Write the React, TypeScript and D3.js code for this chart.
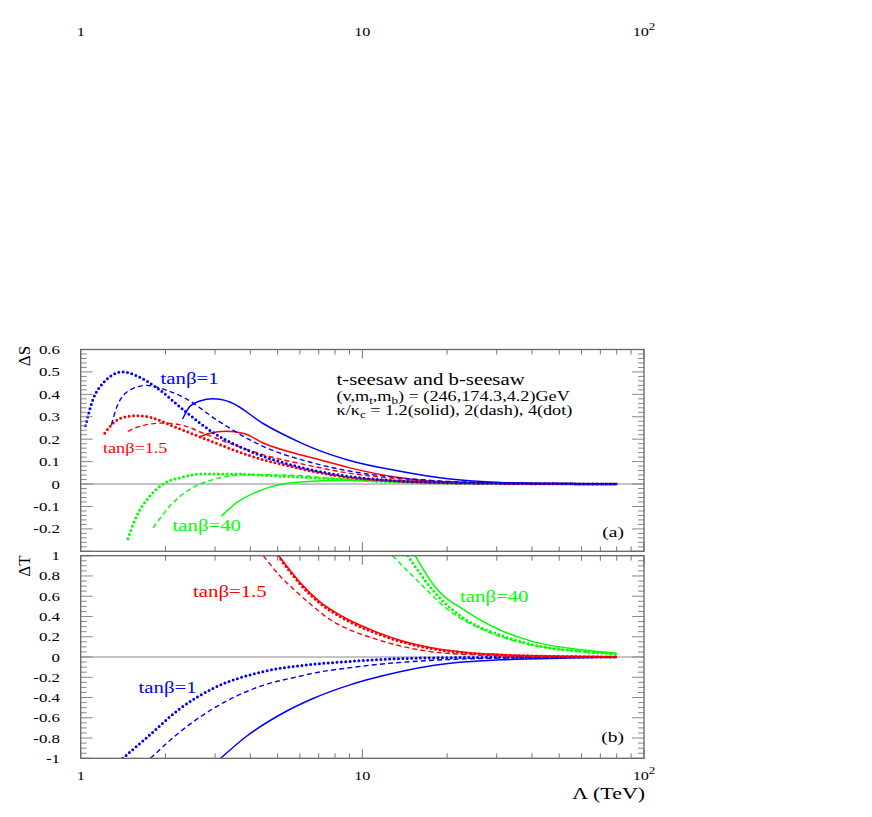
import React from "react";
import * as d3 from "d3";

const W = 872;
const H = 817;
const serif = "'Liberation Serif', 'Times New Roman', Times, 'DejaVu Serif', serif";
const BLUE = "#0000ff";
const RED = "#ff0000";
const GREEN = "#00ff00";

// x axis (Lambda, TeV)
const xTickLabels = ["1", "10", "10"];

// panel (a): Delta S
const sTicks = [-0.2, -0.1, 0, 0.1, 0.2, 0.3, 0.4, 0.5, 0.6];
const lamS_b_dot = [1.04, 1.1, 1.2, 1.41, 1.6, 1.86, 2.37, 2.95, 3.88, 5.84, 8.79, 13, 20, 30, 50, 80];
const dS_b_dot = [0.26, 0.37, 0.45, 0.5, 0.48, 0.43, 0.32, 0.23, 0.153, 0.079, 0.035, 0.015, 0.006, 0.003, 0.001, 0];
const lamS_b_dash = [1.285, 1.35, 1.5, 1.71, 2.0, 2.37, 3.03, 4.44, 6.69, 8.79, 13, 20, 30, 50, 80];
const dS_b_dash = [0.264, 0.35, 0.42, 0.44, 0.42, 0.38, 0.287, 0.168, 0.094, 0.06, 0.03, 0.012, 0.005, 0.002, 0];
const lamS_b_solid = [2.3, 2.44, 2.65, 2.95, 3.4, 4.44, 6.0, 6.69, 9.0, 13.6, 20.5, 30.8, 50, 80];
const dS_b_solid = [0.29, 0.346, 0.37, 0.38, 0.365, 0.27, 0.186, 0.16, 0.105, 0.057, 0.022, 0.007, 0.002, 0];
const lamS_r_dot = [1.217, 1.3, 1.4, 1.58, 1.8, 2.07, 2.72, 3.88, 5.84, 8.79, 13, 20, 30, 50, 80];
const dS_r_dot = [0.227, 0.27, 0.295, 0.305, 0.295, 0.264, 0.205, 0.131, 0.072, 0.03, 0.014, 0.006, 0.003, 0.001, 0];
const lamS_r_dash = [1.47, 1.6, 1.96, 2.3, 2.72, 3.4, 4.44, 6.69, 8.79, 13, 20, 30, 50, 80];
const dS_r_dash = [0.235, 0.255, 0.272, 0.262, 0.227, 0.18, 0.131, 0.079, 0.05, 0.025, 0.01, 0.004, 0.001, 0];
const lamS_r_solid = [2.65, 2.85, 3.29, 3.8, 4.44, 6.0, 6.69, 9.03, 13.6, 20.5, 30.8, 50, 80];
const dS_r_solid = [0.21, 0.225, 0.235, 0.225, 0.183, 0.131, 0.116, 0.072, 0.028, 0.008, 0.003, 0.001, 0];
const lamS_g_dot = [1.47, 1.58, 1.76, 1.96, 2.25, 2.72, 3.38, 5.09, 8.79, 13, 20, 30, 50, 80];
const dS_g_dot = [-0.244, -0.143, -0.054, 0, 0.028, 0.045, 0.045, 0.035, 0.02, 0.008, 0.004, 0.002, 0.001, 0];
const lamS_g_dash = [1.81, 2.07, 2.44, 2.95, 3.88, 5.84, 8.79, 13, 20, 30, 50, 80];
const dS_g_dash = [-0.195, -0.099, -0.024, 0.02, 0.042, 0.038, 0.02, 0.01, 0.004, 0.002, 0.001, 0];
const lamS_g_solid = [3.16, 3.57, 4.44, 5.84, 8.79, 13, 20, 30, 50, 80];
const dS_g_solid = [-0.143, -0.084, -0.024, 0.008, 0.017, 0.015, 0.008, 0.004, 0.001, 0];

// panel (b): Delta T
const tTicks = [-1, -0.8, -0.6, -0.4, -0.2, 0, 0.2, 0.4, 0.6, 0.8, 1];
const lamT_b_dot = [1.41, 1.71, 2.25, 2.95, 4.44, 6.69, 8.79, 13.6, 20, 30, 50, 80];
const dT_b_dot = [-1, -0.8, -0.51, -0.31, -0.145, -0.072, -0.046, -0.016, -0.007, -0.003, -0.001, 0];
const lamT_b_dash = [1.77, 2.25, 2.95, 4.44, 6.0, 6.69, 8.79, 10.35, 17.9, 30.8, 50, 80];
const dT_b_dash = [-1, -0.74, -0.51, -0.28, -0.19, -0.16, -0.11, -0.085, -0.032, -0.011, -0.003, 0];
const lamT_b_solid = [3.14, 3.89, 5.1, 6.68, 9.04, 10.39, 13.6, 17.8, 23.4, 30.8, 53.3, 80];
const dT_b_solid = [-1, -0.78, -0.57, -0.41, -0.275, -0.225, -0.145, -0.085, -0.048, -0.028, -0.01, 0];
const lamT_r = [5.02, 5.54, 6.01, 7.07, 7.87, 9.04, 10.39, 13.6, 17.8, 23.4, 30.8, 50.4, 80];
const dT_r_dot = [1, 0.84, 0.72, 0.53, 0.44, 0.345, 0.27, 0.155, 0.08, 0.04, 0.02, 0.006, 0];
const dT_r_solid = [1.01, 0.855, 0.735, 0.545, 0.455, 0.36, 0.285, 0.165, 0.088, 0.045, 0.024, 0.008, 0];
const lamT_r_dash = [4.45, 5.1, 5.86, 6.68, 7.68, 8.83, 10.39, 13.6, 17.8, 23.4, 30.8, 50.4, 80];
const dT_r_dash = [1, 0.8, 0.64, 0.5, 0.37, 0.28, 0.205, 0.11, 0.05, 0.025, 0.012, 0.004, 0];
const lamT_g_dot = [14.5, 17.9, 23.4, 30.8, 40.4, 60.9, 80];
const dT_g_dot = [1, 0.65, 0.366, 0.218, 0.119, 0.053, 0.03];
const lamT_g_dash = [12.8, 15.6, 20.5, 26.9, 35.3, 53, 80];
const dT_g_dash = [1, 0.76, 0.45, 0.267, 0.152, 0.069, 0.03];
const lamT_g_solid = [15.4, 17.9, 23.4, 30.8, 40.4, 60.9, 80];
const dT_g_solid = [1, 0.71, 0.45, 0.267, 0.152, 0.069, 0.037];

const X0 = 80.7;
const X1 = 644;
const x = d3.scaleLog().domain([1, 100]).range([X0, X1]);
const yA = d3.scaleLinear().domain([-0.3, 0.6]).range([551.3, 349.5]);
const yB = d3.scaleLinear().domain([-1, 1]).range([758.3, 555.7]);

const styles: Record<string, { w: number; dash?: string; cap: string }> = {
  solid: { w: 1.5, cap: "butt" },
  dash: { w: 1.4, dash: "5 3.2", cap: "butt" },
  dot: { w: 3, dash: "0 4.4", cap: "round" },
};

const seriesA = [
  { lam: lamS_g_dot, v: dS_g_dot, c: GREEN, s: "dot" },
  { lam: lamS_g_dash, v: dS_g_dash, c: GREEN, s: "dash" },
  { lam: lamS_g_solid, v: dS_g_solid, c: GREEN, s: "solid" },
  { lam: lamS_r_dot, v: dS_r_dot, c: RED, s: "dot" },
  { lam: lamS_r_dash, v: dS_r_dash, c: RED, s: "dash" },
  { lam: lamS_r_solid, v: dS_r_solid, c: RED, s: "solid" },
  { lam: lamS_b_dot, v: dS_b_dot, c: BLUE, s: "dot" },
  { lam: lamS_b_dash, v: dS_b_dash, c: BLUE, s: "dash" },
  { lam: lamS_b_solid, v: dS_b_solid, c: BLUE, s: "solid" },
];
const seriesB = [
  { lam: lamT_g_dot, v: dT_g_dot, c: GREEN, s: "dot" },
  { lam: lamT_g_dash, v: dT_g_dash, c: GREEN, s: "dash" },
  { lam: lamT_g_solid, v: dT_g_solid, c: GREEN, s: "solid" },
  { lam: lamT_b_dot, v: dT_b_dot, c: BLUE, s: "dot" },
  { lam: lamT_b_dash, v: dT_b_dash, c: BLUE, s: "dash" },
  { lam: lamT_b_solid, v: dT_b_solid, c: BLUE, s: "solid" },
  { lam: lamT_r_dash, v: dT_r_dash, c: RED, s: "dash" },
  { lam: lamT_r, v: dT_r_dot, c: RED, s: "dot" },
  { lam: lamT_r, v: dT_r_solid, c: RED, s: "solid" },
];

function Txt({ x, y, size, sx = 1.3, anchor = "start", fill = "#000", children }: any) {
  return (
    <text
      transform={`translate(${x},${y}) scale(${sx},1)`}
      fontSize={size}
      textAnchor={anchor}
      fill={fill}
      style={{ fontFamily: serif }}
    >
      {children}
    </text>
  );
}

function Panel({ y, series, id, minorStep, majorStep }: any) {
  const [b, t] = y.range();
  const [lo, hi] = y.domain();
  const xt: { v: number; major: boolean }[] = [];
  [1, 10].forEach((dec) => {
    for (let k = 1; k <= 9; k++) xt.push({ v: k * dec, major: k === 1 });
  });
  xt.push({ v: 100, major: true });
  const yt: { v: number; major: boolean }[] = [];
  const n = Math.round((hi - lo) / minorStep);
  for (let i = 0; i <= n; i++) {
    const v = lo + i * minorStep;
    const r = v / majorStep;
    yt.push({ v, major: Math.abs(r - Math.round(r)) < 1e-6 });
  }
  return (
    <g>
      <defs>
        <clipPath id={id}>
          <rect x={X0} y={t} width={X1 - X0} height={b - t} />
        </clipPath>
      </defs>
      <line x1={X0} x2={X1} y1={y(0)} y2={y(0)} stroke="#888" strokeWidth={1} />
      <g clipPath={`url(#${id})`}>
        {series.map((s: any, i: number) => {
          const st = styles[s.s];
          const pts: [number, number][] = s.lam.map((l: number, j: number) => [x(l), y(s.v[j])]);
          const path = d3.line().curve(d3.curveMonotoneX)(pts);
          return (
            <path
              key={i}
              d={path || ""}
              fill="none"
              stroke={s.c}
              strokeWidth={st.w}
              strokeDasharray={st.dash}
              strokeLinecap={st.cap as any}
            />
          );
        })}
      </g>
      {xt.map((d, i) => {
        const L = d.major ? 9 : 5;
        return (
          <g key={"x" + i} stroke="#777" strokeWidth={1}>
            <line x1={x(d.v)} x2={x(d.v)} y1={b} y2={b - L} />
            <line x1={x(d.v)} x2={x(d.v)} y1={t} y2={t + L} />
          </g>
        );
      })}
      {yt.map((d, i) => {
        const L = d.major ? 12 : 6;
        return (
          <g key={"y" + i} stroke="#888" strokeWidth={1}>
            <line x1={X0} x2={X0 + L} y1={y(d.v)} y2={y(d.v)} />
            <line x1={X1} x2={X1 - L} y1={y(d.v)} y2={y(d.v)} />
          </g>
        );
      })}
      <rect x={X0} y={t} width={X1 - X0} height={b - t} fill="none" stroke="#666" strokeWidth={1.3} />
    </g>
  );
}

function XLabels({ yb }: { yb: number }) {
  return (
    <g>
      {[1, 10, 100].map((v, i) => (
        <Txt key={i} x={x(v)} y={yb} size={12.5} anchor="middle">
          {xTickLabels[i]}
          {i === 2 ? (
            <tspan dy={-6} fontSize={10}>
              2
            </tspan>
          ) : null}
        </Txt>
      ))}
    </g>
  );
}

export default function App() {
  const fmt = (v: number) => (Math.abs(v) < 1e-9 ? "0" : String(+v.toFixed(2)));
  return (
    <svg
      width={W}
      height={H}
      style={{ position: "absolute", left: 0, top: 0, background: "#fff" }}
    >
      <XLabels yb={36} />
      <Panel y={yA} series={seriesA} id="clipA" minorStep={0.02} majorStep={0.1} />
      <Panel y={yB} series={seriesB} id="clipB" minorStep={0.05} majorStep={0.2} />
      {sTicks.map((v) => (
        <Txt key={"s" + v} x={60} y={yA(v) + 4.5} size={13.5} sx={1.25} anchor="end">
          {fmt(v)}
        </Txt>
      ))}
      {tTicks.map((v) => (
        <Txt key={"t" + v} x={60} y={yB(v) + 4.5} size={13.5} sx={1.25} anchor="end">
          {fmt(v)}
        </Txt>
      ))}
      <XLabels yb={780} />
      <Txt x={645} y={799} size={16} sx={1.37} anchor="end">
        Λ (TeV)
      </Txt>
      <text transform="translate(29.5,356) rotate(-90)" fontSize={17} textAnchor="middle" style={{ fontFamily: serif }}>
        ΔS
      </text>
      <text transform="translate(29.5,566) rotate(-90)" fontSize={17} textAnchor="middle" style={{ fontFamily: serif }}>
        ΔT
      </text>

      {/* panel (a) annotations */}
      <Txt x={160.5} y={384} size={16} fill={BLUE}>tanβ=1</Txt>
      <Txt x={103} y={453} size={14} fill={RED}>tanβ=1.5</Txt>
      <Txt x={172.5} y={531} size={16} fill={GREEN}>tanβ=40</Txt>
      <Txt x={336.5} y={385} size={16}>t-seesaw and b-seesaw</Txt>
      <Txt x={336.5} y={401} size={14}>
        (v,m<tspan fontSize={10} dy={3}>t</tspan>
        <tspan dy={-3}>,m</tspan>
        <tspan fontSize={10} dy={3}>b</tspan>
        <tspan dy={-3}>) = (246,174.3,4.2)GeV</tspan>
      </Txt>
      <Txt x={336.5} y={414.5} size={14}>
        κ/κ<tspan fontSize={10} dy={3}>c</tspan>
        <tspan dy={-3}> = 1.2(solid), 2(dash), 4(dot)</tspan>
      </Txt>
      <Txt x={624} y={537} size={15} anchor="end">(a)</Txt>

      {/* panel (b) annotations */}
      <Txt x={193} y={597} size={16} fill={RED}>tanβ=1.5</Txt>
      <Txt x={138.5} y={693} size={16} fill={BLUE}>tanβ=1</Txt>
      <Txt x={460} y={602} size={16} fill={GREEN}>tanβ=40</Txt>
      <Txt x={624} y={742} size={15} anchor="end">(b)</Txt>
    </svg>
  );
}
